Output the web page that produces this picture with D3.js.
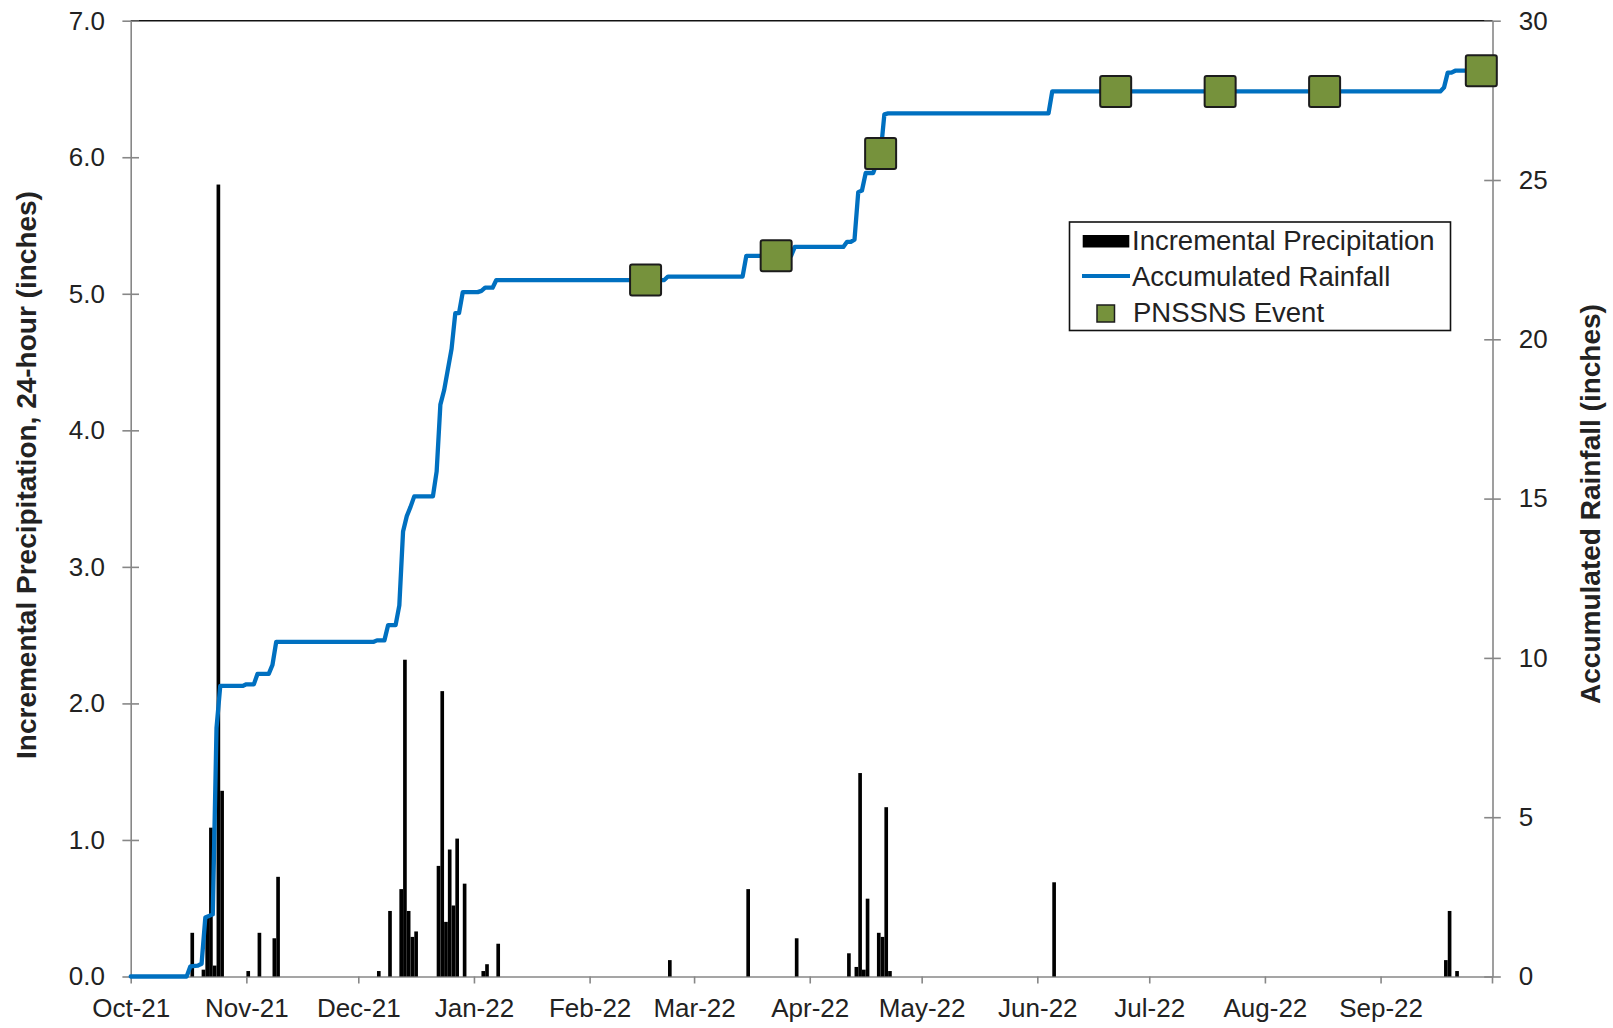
<!DOCTYPE html>
<html>
<head>
<meta charset="utf-8">
<script src="https://cdn.jsdelivr.net/npm/d3@7"></script>
<style>
  html, body { margin: 0; padding: 0; background: #fff; }
  svg { display: block; }
  text { font-family: "Liberation Sans", Arial, Helvetica, sans-serif; fill: #222; }
</style>
</head>
<body>
<svg id="chart" width="1613" height="1028"></svg>
<script>
// ---- date axis ----
const monthTicks = ["2021-10-01","2021-11-01","2021-12-01","2022-01-01","2022-02-01","2022-03-01",
                    "2022-04-01","2022-05-01","2022-06-01","2022-07-01","2022-08-01","2022-09-01"];
const monthLabels = ["Oct-21","Nov-21","Dec-21","Jan-22","Feb-22","Mar-22",
                     "Apr-22","May-22","Jun-22","Jul-22","Aug-22","Sep-22"];
const dateDomain = ["2021-10-01","2022-10-01"];

// ---- value axes ----
const leftTicks = [0, 1, 2, 3, 4, 5, 6, 7];
const rightTicks = [0, 5, 10, 15, 20, 25, 30];

// ---- daily incremental precipitation (inches) ----
const precipDates = [
  "2021-10-17","2021-10-20","2021-10-21","2021-10-22","2021-10-23","2021-10-24","2021-10-25",
  "2021-11-01","2021-11-04","2021-11-08","2021-11-09",
  "2021-12-06","2021-12-09","2021-12-12","2021-12-13","2021-12-14","2021-12-15","2021-12-16",
  "2021-12-22","2021-12-23","2021-12-24","2021-12-25","2021-12-26","2021-12-27","2021-12-29",
  "2022-01-03","2022-01-04","2022-01-07",
  "2022-02-22","2022-03-15","2022-03-28",
  "2022-04-11","2022-04-13","2022-04-14","2022-04-15","2022-04-16","2022-04-19","2022-04-20",
  "2022-04-21","2022-04-22",
  "2022-06-05",
  "2022-09-18","2022-09-19","2022-09-21"
];
const precipInches = [
  0.32, 0.05, 0.44, 1.09, 0.08, 5.80, 1.36,
  0.04, 0.32, 0.28, 0.73,
  0.04, 0.48, 0.64, 2.32, 0.48, 0.29, 0.33,
  0.81, 2.09, 0.40, 0.93, 0.52, 1.01, 0.68,
  0.04, 0.09, 0.24,
  0.12, 0.64, 0.28,
  0.17, 0.07, 1.49, 0.05, 0.57, 0.32, 0.29,
  1.24, 0.04,
  0.69,
  0.12, 0.48, 0.04
];

// ---- accumulated rainfall (inches), vertices of the running total ----
const accumDates = [
  "2021-10-01","2021-10-16","2021-10-17","2021-10-19","2021-10-20","2021-10-21","2021-10-23",
  "2021-10-24","2021-10-25","2021-10-31","2021-11-01","2021-11-03","2021-11-04","2021-11-07",
  "2021-11-08","2021-11-09","2021-12-05","2021-12-06","2021-12-08","2021-12-09","2021-12-11",
  "2021-12-12","2021-12-13","2021-12-14","2021-12-15","2021-12-16","2021-12-21","2021-12-22",
  "2021-12-23","2021-12-24","2021-12-25","2021-12-26","2021-12-27","2021-12-28","2021-12-29",
  "2022-01-02","2022-01-03","2022-01-04","2022-01-06","2022-01-07","2022-02-21","2022-02-22",
  "2022-03-14","2022-03-15","2022-03-27","2022-03-28","2022-04-10","2022-04-11","2022-04-12",
  "2022-04-13","2022-04-14","2022-04-15","2022-04-16","2022-04-18","2022-04-19","2022-04-20",
  "2022-04-21","2022-04-22","2022-06-04","2022-06-05","2022-09-17","2022-09-18","2022-09-19",
  "2022-09-20","2022-09-21","2022-09-28"
];
const accumInches = [
  0.00, 0.00, 0.32, 0.34, 0.40, 1.85, 1.95,
  7.80, 9.12, 9.12, 9.17, 9.17, 9.50, 9.50,
  9.78, 10.50, 10.50, 10.55, 10.55, 11.03, 11.03,
  11.65, 13.97, 14.45, 14.74, 15.07, 15.07, 15.85,
  17.95, 18.40, 19.05, 19.70, 20.82, 20.82, 21.48,
  21.48, 21.52, 21.62, 21.62, 21.86, 21.86, 21.97,
  21.97, 22.62, 22.62, 22.90, 22.90, 23.06, 23.06,
  23.13, 24.62, 24.67, 25.22, 25.22, 25.54, 25.83,
  27.06, 27.09, 27.09, 27.78, 27.78, 27.90, 28.37,
  28.37, 28.43, 28.43
];

// ---- PNSSNS events ----
const eventDates = ["2022-02-16","2022-03-23","2022-04-20","2022-06-22","2022-07-20","2022-08-17","2022-09-28"];
const eventInches = [21.86, 22.62, 25.83, 27.78, 27.78, 27.78, 28.43];

const legendLabels = ["Incremental Precipitation", "Accumulated Rainfall", "PNSSNS Event"];

// ---- colours ----
const barColor = "#000000";
const lineColor = "#0070C0";
const markerFill = "#76923C";
const markerStroke = "#1c1c1c";
const axisColor = "#878787";

// ---- layout ----
const plot = { left: 130.7, right: 1492.5, top: 20.7, bottom: 976.5 };

const parse = d3.utcParse("%Y-%m-%d");
const svg = d3.select("#chart");

const x = d3.scaleUtc().domain(dateDomain.map(parse)).range([plot.left, plot.right]);
const yL = d3.scaleLinear().domain([0, 7]).range([plot.bottom, plot.top]);
const yR = d3.scaleLinear().domain([0, 30]).range([plot.bottom, plot.top]);

// top border at the maximum value
svg.append("line")
  .attr("x1", plot.left).attr("x2", plot.right)
  .attr("y1", yL(7)).attr("y2", yL(7))
  .attr("stroke", "#111").attr("stroke-width", 1.6);

function styleAxis(g) {
  g.select(".domain").attr("stroke", axisColor).attr("stroke-width", 1.6);
  g.selectAll(".tick line").attr("stroke", axisColor).attr("stroke-width", 1.6);
  g.selectAll(".tick text").attr("fill", "#222").style("font-size", "26px");
}

// left axis (incremental)
const gL = svg.append("g")
  .attr("transform", `translate(${plot.left},0)`)
  .call(d3.axisLeft(yL).tickValues(leftTicks).tickFormat(d3.format(".1f"))
        .tickSizeInner(8.3).tickSizeOuter(0).tickPadding(17.5));
styleAxis(gL);
gL.selectAll(".tick line").attr("x1", 8.3).attr("x2", -8.3);

// right axis (accumulated)
const gR = svg.append("g")
  .attr("transform", `translate(${plot.right},0)`)
  .call(d3.axisRight(yR).tickValues(rightTicks).tickFormat(d3.format("d"))
        .tickSizeInner(8.3).tickSizeOuter(0).tickPadding(18));
styleAxis(gR);
gR.selectAll(".tick line").attr("x1", -8.3).attr("x2", 8.3);

// bottom date axis
const tickDates = monthTicks.map(parse);
const gB = svg.append("g")
  .attr("transform", `translate(0,${plot.bottom})`)
  .call(d3.axisBottom(x).tickValues(tickDates)
        .tickFormat((d, i) => monthLabels[i])
        .tickSizeInner(7).tickSizeOuter(0).tickPadding(15));
styleAxis(gB);
// closing tick at the end of the date range
gB.append("line")
  .attr("x1", x(parse(dateDomain[1]))).attr("x2", x(parse(dateDomain[1])))
  .attr("y1", 0).attr("y2", 7)
  .attr("stroke", axisColor).attr("stroke-width", 1.6);

// incremental precipitation bars, one day wide each
const precip = precipDates.map((d, i) => ({ date: parse(d), value: precipInches[i] }));
const dayWidth = d => x(d3.utcDay.offset(d.date, 1)) - x(d.date);
svg.append("g").selectAll("rect")
  .data(precip)
  .join("rect")
  .attr("x", d => x(d.date) + dayWidth(d) * 0.01)
  .attr("width", d => dayWidth(d) * 0.98)
  .attr("y", d => yL(d.value))
  .attr("height", d => yL(0) - yL(d.value))
  .attr("fill", barColor);

// accumulated rainfall line
const accum = accumDates.map((d, i) => ({ date: parse(d), value: accumInches[i] }));
svg.append("path")
  .datum(accum)
  .attr("fill", "none")
  .attr("stroke", lineColor)
  .attr("stroke-width", 4.3)
  .attr("stroke-linejoin", "round")
  .attr("stroke-linecap", "round")
  .attr("d", d3.line().x(d => x(d.date)).y(d => yR(d.value)));

// event markers
const events = eventDates.map((d, i) => ({ date: parse(d), value: eventInches[i] }));
const mSize = 31;
svg.append("g").selectAll("rect")
  .data(events)
  .join("rect")
  .attr("x", d => x(d.date) - mSize / 2)
  .attr("y", d => yR(d.value) - mSize / 2)
  .attr("width", mSize).attr("height", mSize)
  .attr("rx", 2).attr("ry", 2)
  .attr("fill", markerFill)
  .attr("stroke", markerStroke)
  .attr("stroke-width", 2);

// axis titles
svg.append("text")
  .attr("transform", "translate(26,475) rotate(-90)")
  .attr("text-anchor", "middle")
  .attr("dominant-baseline", "central")
  .style("font-size", "28px").style("font-weight", "bold")
  .attr("fill", "#111")
  .text("Incremental Precipitation, 24-hour (inches)");

svg.append("text")
  .attr("transform", "translate(1590,504) rotate(-90)")
  .attr("text-anchor", "middle")
  .attr("dominant-baseline", "central")
  .style("font-size", "28px").style("font-weight", "bold")
  .attr("fill", "#111")
  .text("Accumulated Rainfall (inches)");

// legend
const lg = svg.append("g");
lg.append("rect")
  .attr("x", 1069.5).attr("y", 222).attr("width", 381).attr("height", 108.5)
  .attr("fill", "#fff").attr("stroke", "#111").attr("stroke-width", 1.6);
lg.append("rect")
  .attr("x", 1082.7).attr("y", 235).attr("width", 46.6).attr("height", 12.5)
  .attr("fill", barColor);
lg.append("line")
  .attr("x1", 1082).attr("x2", 1130).attr("y1", 276).attr("y2", 276)
  .attr("stroke", lineColor).attr("stroke-width", 4);
lg.append("rect")
  .attr("x", 1097).attr("y", 305).attr("width", 17.5).attr("height", 17)
  .attr("fill", markerFill).attr("stroke", markerStroke).attr("stroke-width", 1.5);
const legendY = [250, 285.5, 321.5];
const legendX = [1132, 1132, 1133];
lg.selectAll("text.lab")
  .data(legendLabels)
  .join("text")
  .attr("class", "lab")
  .attr("x", (d, i) => legendX[i])
  .attr("y", (d, i) => legendY[i])
  .style("font-size", "27.5px")
  .text(d => d);
</script>
</body>
</html>
